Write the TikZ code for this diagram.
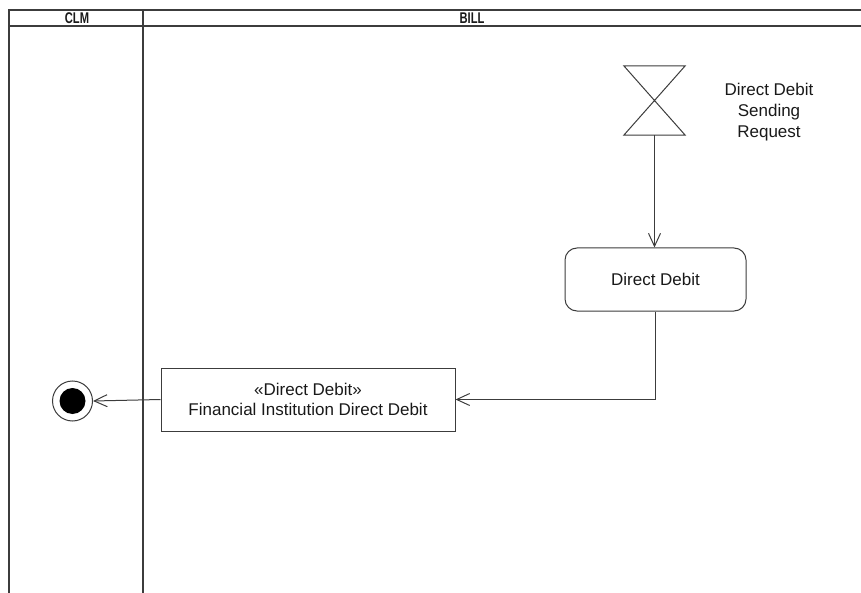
\documentclass[tikz,border=0pt]{standalone}
\usepackage{fontspec}
\setmainfont{Liberation Sans}
\usepackage{graphicx}
\usepackage{xcolor}
\definecolor{LineGray}{RGB}{60, 60, 60}
\definecolor{TextDark}{RGB}{25, 25, 25}
\usetikzlibrary{arrows.meta, positioning}
\newcommand{\lanetitle}[1]{\scalebox{0.72}[1]{\bfseries #1}}

\begin{document}
\begin{tikzpicture}[
  x=1pt, y=-1pt,
  font=\fontsize{17}{21}\selectfont,
  text=TextDark,
  lane/.style={draw=LineGray, line width=1.2pt},
  head/.style={
    font=\fontsize{15.5}{15.5}\selectfont, inner sep=0pt},
  action/.style={
    draw=LineGray, line width=1pt,
    rounded corners=12pt, align=center,
    minimum width=181pt, minimum height=63pt},
  sendbox/.style={
    draw=LineGray, line width=1pt,
    align=center,
    minimum width=294pt, minimum height=63pt},
  arrow/.style={
    -{Straight Barb[length=13pt, width=12pt]},
    draw=LineGray, line width=1pt}
]
\useasboundingbox (0,0) rectangle (861,593);

% swimlanes
\draw[lane] (9,593) -- (9,10) -- (861,10);
\draw[lane] (9,26) -- (861,26);
\draw[lane] (143,10) -- (143,593);
\node[head] (clm) at (77,18) {\lanetitle{CLM}};
\node[head] (bill) at (472,18) {\lanetitle{BILL}};

% time event
\node[minimum width=61pt, minimum height=69pt,
      inner sep=0pt] (req) at (654.5,100.5) {};
\draw[draw=LineGray, line width=1pt]
  (req.north west) -- (req.north east)
  -- (req.south west) -- (req.south east) -- cycle;
\node[align=center] (reqlabel) at (769,112)
  {Direct Debit\\Sending\\Request};

% actions
\node[action] (dd) at (655.5,279.5) {Direct Debit};
\node[sendbox, font=\fontsize{17}{20}\selectfont] (fidd) at (308,399.5)
  {«Direct Debit»\\Financial Institution Direct Debit};

% final node
\node[circle, draw=LineGray, line width=1pt, fill=white,
      minimum size=40pt, inner sep=0pt] (final) at (72.5,401) {};
\node[circle, fill=black, minimum size=26pt,
      inner sep=0pt] (finaldot) at (final.center) {};

% flows
\draw[arrow] (req.south) -- (req.south |- dd.north);
\draw[arrow] (dd.south) |- (fidd.east);
\draw[arrow] (fidd.west) -- (final.east);

\end{tikzpicture}
\end{document}
